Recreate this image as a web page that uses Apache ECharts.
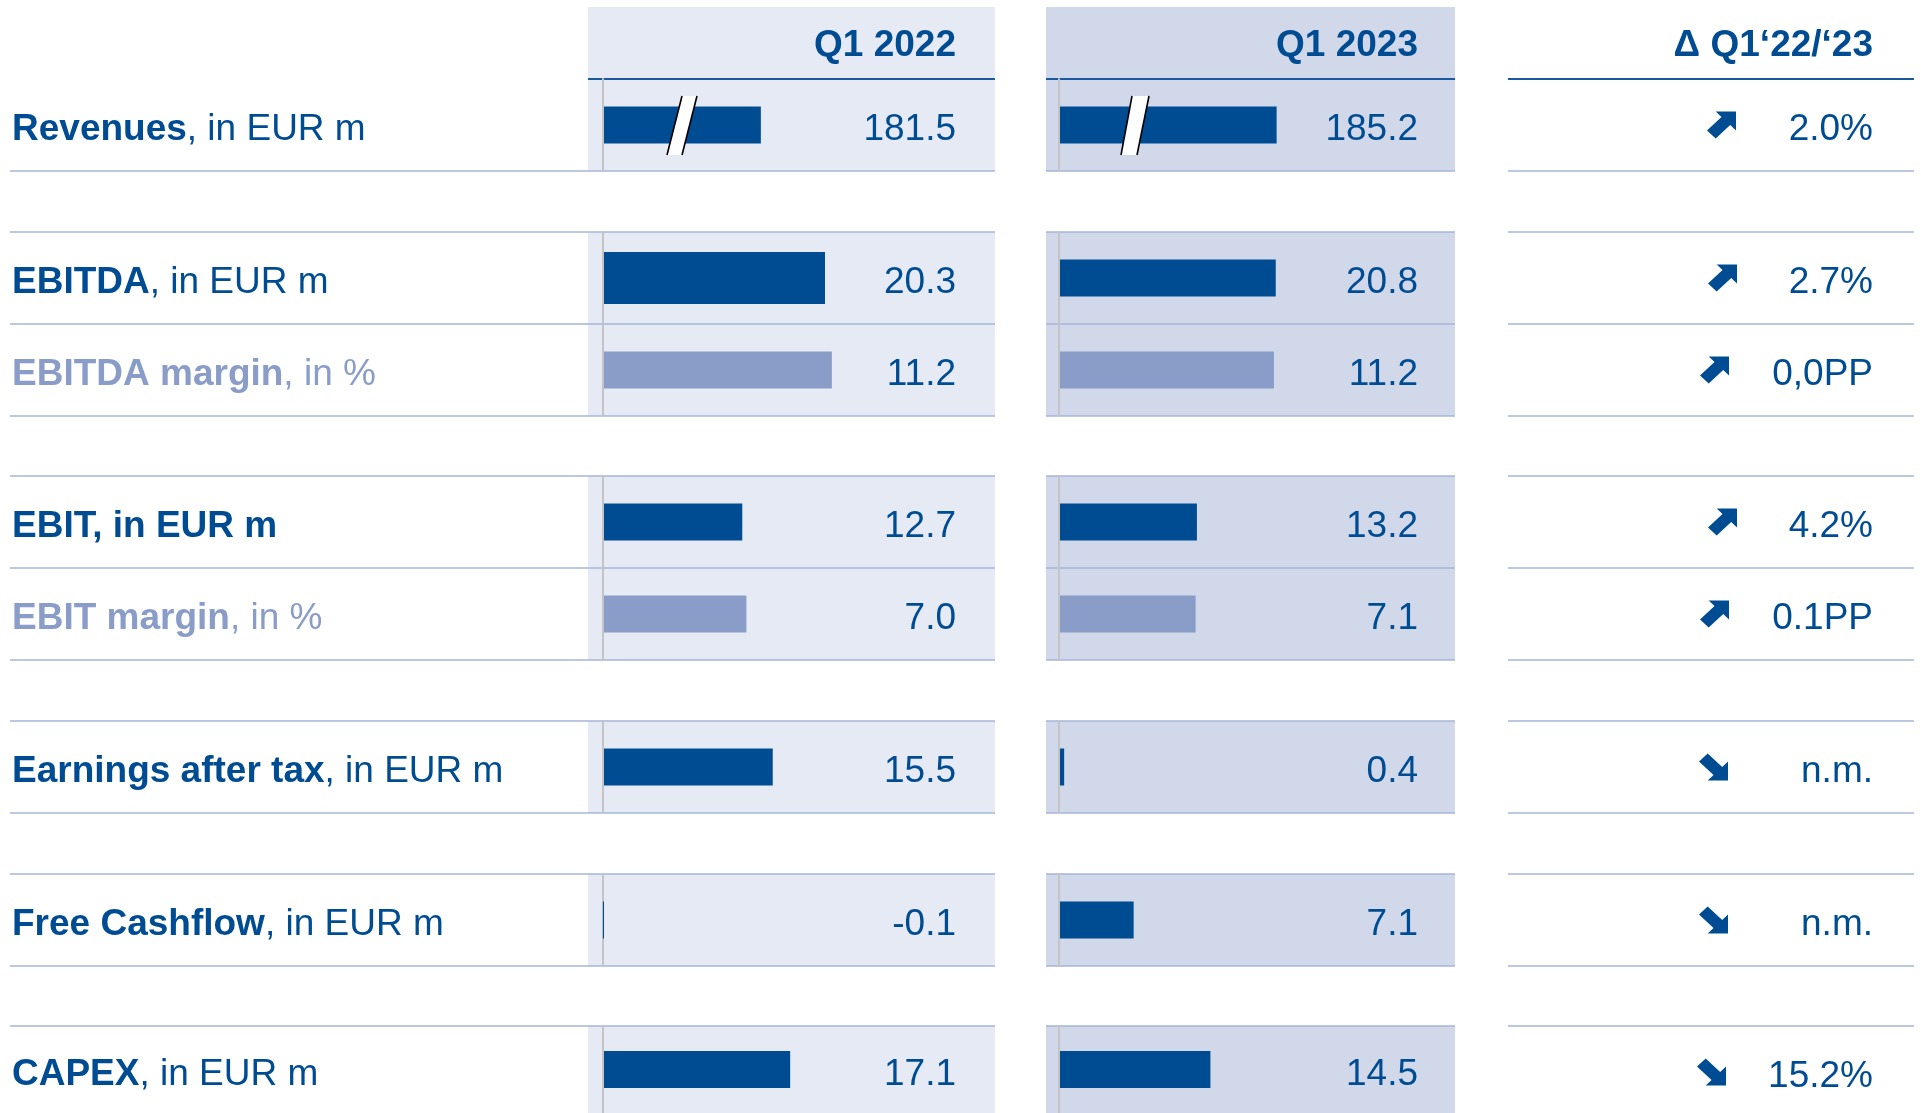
<!DOCTYPE html>
<html>
<head>
<meta charset="utf-8">
<title>Key figures Q1 2023</title>
<script src="https://cdn.jsdelivr.net/npm/echarts@6/dist/echarts.min.js"></script>
<style>
    html, body { margin: 0; padding: 0; background: #ffffff; }
    #chart { width: 1921px; height: 1113px; }
</style>
</head>
<body>
<div id="chart"></div>
<script>
(function () {
    'use strict';

    var columnTitles = ['Q1 2022', 'Q1 2023', 'Δ Q1‘22/‘23'];
    var labelBold = ['Revenues', 'EBITDA', 'EBITDA margin', 'EBIT, in EUR m', 'EBIT margin', 'Earnings after tax', 'Free Cashflow', 'CAPEX'];
    var labelUnit = [', in EUR m', ', in EUR m', ', in %', '', ', in %', ', in EUR m', ', in EUR m', ', in EUR m'];
    var rowKind = ['rev', 'eur', 'pct', 'eur', 'pct', 'eur', 'eur', 'eur'];
    var valuesQ1_2022 = [181.5, 20.3, 11.2, 12.7, 7.0, 15.5, -0.1, 17.1];
    var valuesQ1_2023 = [185.2, 20.8, 11.2, 13.2, 7.1, 0.4, 7.1, 14.5];
    var deltaText = ['2.0%', '2.7%', '0,0PP', '4.2%', '0.1PP', 'n.m.', 'n.m.', '15.2%'];
    var deltaDir = ['up', 'up', 'up', 'up', 'up', 'down', 'down', 'down'];

    // hidden x axis ranges per column; revenue axis is broken and starts at 170
    var axisRange = [
        { rev: [170, 196.1], eur: [0, 32.7], pct: [0, 17.5] },
        { rev: [170, 195.4], eur: [0, 34.9], pct: [0, 18.95] }
    ];

    var FONT = '"Liberation Sans", Arial, sans-serif';
    var DARK = '#004C93';
    var LIGHT = '#8A9CC8';
    var ROW_LINE = '#A6B4D9';
    var HEAD_LINE = '#1B59A1';
    var AXIS_GREY = '#C4C4C4';
    var colBg = ['#E6EAF4', '#D0D8EA'];

    var rowTop = [79, 232, 324, 476, 568, 721, 874, 1026];
    var rowH = 92;
    var textShift = 5;
    var colBox = [[588, 995], [1046, 1455], [1508, 1914]];
    var gridLeft = [604, 1060];
    var gridWidth = [356, 362];
    var valueRight = [956, 1418, 1873];
    var arrowX = [1707, 1708, 1700, 1708, 1700, 1699, 1699, 1697];
    var breakMarks = [
        [[667, 155], [682, 96], [697, 96], [682, 155]],
        [[1121, 155], [1132, 96], [1149, 96], [1137, 155]]
    ];

    var chart = echarts.init(document.getElementById('chart'));

    var grids = [];
    var xAxes = [];
    var yAxes = [];
    var series = [];
    var graphics = [];

    function rowLabel(r) {
        var color = rowKind[r] === 'pct' ? LIGHT : DARK;
        return {
            show: true,
            align: 'left',
            margin: gridLeft[0] - 1.5 - 12,
            padding: [textShift * 2, 0, 0, 0],
            formatter: function () {
                var s = '{b|' + labelBold[r] + '}';
                if (labelUnit[r]) {
                    s += '{n|' + labelUnit[r] + '}';
                }
                return s;
            },
            rich: {
                b: { fontWeight: 'bold', fontSize: 37, fontFamily: FONT, color: color },
                n: { fontSize: 37, fontFamily: FONT, color: color }
            }
        };
    }

    [valuesQ1_2022, valuesQ1_2023].forEach(function (values, c) {
        values.forEach(function (v, r) {
            var idx = grids.length;
            var kind = rowKind[r];
            grids.push({ left: gridLeft[c], top: rowTop[r], width: gridWidth[c], height: rowH });
            xAxes.push({
                gridIndex: idx,
                type: 'value',
                min: axisRange[c][kind][0],
                max: axisRange[c][kind][1],
                show: false
            });
            yAxes.push({
                gridIndex: idx,
                type: 'category',
                position: 'left',
                offset: 1.5,
                data: [labelBold[r]],
                axisLine: { show: true, onZero: false, lineStyle: { color: AXIS_GREY, width: 2 } },
                axisTick: { show: false },
                axisLabel: c === 0 ? rowLabel(r) : { show: false }
            });
            yAxes.push({
                gridIndex: idx,
                type: 'category',
                position: 'right',
                data: [v.toFixed(1)],
                axisLine: { show: false },
                axisTick: { show: false },
                axisLabel: {
                    inside: true,
                    margin: gridLeft[c] + gridWidth[c] - valueRight[c],
                    formatter: '{v|{value}}',
                    rich: {
                        v: { padding: [textShift * 2, 0, 0, 0], color: DARK, fontSize: 37, fontFamily: FONT }
                    }
                }
            });
            series.push({
                type: 'bar',
                xAxisIndex: idx,
                yAxisIndex: idx * 2,
                data: [v],
                barWidth: (c === 0 && r === 1) ? 52 : 37,
                clip: kind === 'rev',
                silent: true,
                itemStyle: { color: kind === 'pct' ? LIGHT : DARK }
            });
        });
    });

    // column backgrounds
    [0, 1].forEach(function (c) {
        var x0 = colBox[c][0];
        var w = colBox[c][1] - colBox[c][0];
        graphics.push({ type: 'rect', z: -5, shape: { x: x0, y: 7, width: w, height: 72 }, style: { fill: colBg[c] } });
        rowTop.forEach(function (t) {
            graphics.push({ type: 'rect', z: -5, shape: { x: x0, y: t, width: w, height: rowH }, style: { fill: colBg[c] } });
        });
    });

    // row separator lines
    var edges = [];
    rowTop.forEach(function (t, r) {
        if (r > 0 && edges.indexOf(t) < 0) {
            edges.push(t);
        }
        edges.push(t + rowH);
    });
    edges.forEach(function (y) {
        [[10, colBox[0][1]], colBox[1], colBox[2]].forEach(function (seg) {
            graphics.push({ type: 'line', z: -4, shape: { x1: seg[0], y1: y, x2: seg[1], y2: y }, style: { stroke: ROW_LINE, lineWidth: 1.6 } });
        });
    });
    colBox.forEach(function (seg) {
        graphics.push({ type: 'line', z: -3, shape: { x1: seg[0], y1: 79, x2: seg[1], y2: 79 }, style: { stroke: HEAD_LINE, lineWidth: 2 } });
    });

    // column titles
    columnTitles.forEach(function (t, c) {
        graphics.push({
            type: 'text', z: 5, x: valueRight[c], y: 45.5,
            style: { text: t, fill: DARK, font: 'bold 37px ' + FONT, align: 'right', verticalAlign: 'middle' }
        });
    });

    // delta column: arrow + text
    deltaText.forEach(function (t, r) {
        var cy = rowTop[r] + rowH / 2;
        graphics.push({
            type: 'text', z: 5, x: valueRight[2], y: cy + textShift,
            style: { text: t, fill: DARK, font: '37px ' + FONT, align: 'right', verticalAlign: 'middle' }
        });
        var x = arrowX[r];
        var y = cy - 13.5;
        var w = 29;
        var h = 27;
        var pts = deltaDir[r] === 'up'
            ? [[0.3, 0], [1, 0], [1, 0.7], [0.8, 0.5], [0.3, 1], [0, 0.7], [0.5, 0.2]]
            : [[0.3, 1], [1, 1], [1, 0.3], [0.8, 0.5], [0.3, 0], [0, 0.3], [0.5, 0.8]];
        graphics.push({
            type: 'polygon', z: 5,
            shape: { points: pts.map(function (p) { return [x + p[0] * w, y + p[1] * h]; }) },
            style: { fill: DARK }
        });
    });

    // axis break marks on the revenue bars
    breakMarks.forEach(function (m) {
        graphics.push({ type: 'polygon', z: 10, shape: { points: m }, style: { fill: '#ffffff' } });
        graphics.push({ type: 'line', z: 11, shape: { x1: m[0][0], y1: m[0][1], x2: m[1][0], y2: m[1][1] }, style: { stroke: '#000000', lineWidth: 1.6 } });
        graphics.push({ type: 'line', z: 11, shape: { x1: m[3][0], y1: m[3][1], x2: m[2][0], y2: m[2][1] }, style: { stroke: '#000000', lineWidth: 1.6 } });
    });

    chart.setOption({
        animation: false,
        backgroundColor: '#ffffff',
        grid: grids,
        xAxis: xAxes,
        yAxis: yAxes,
        series: series,
        graphic: { elements: graphics }
    });
})();
</script>
</body>
</html>
